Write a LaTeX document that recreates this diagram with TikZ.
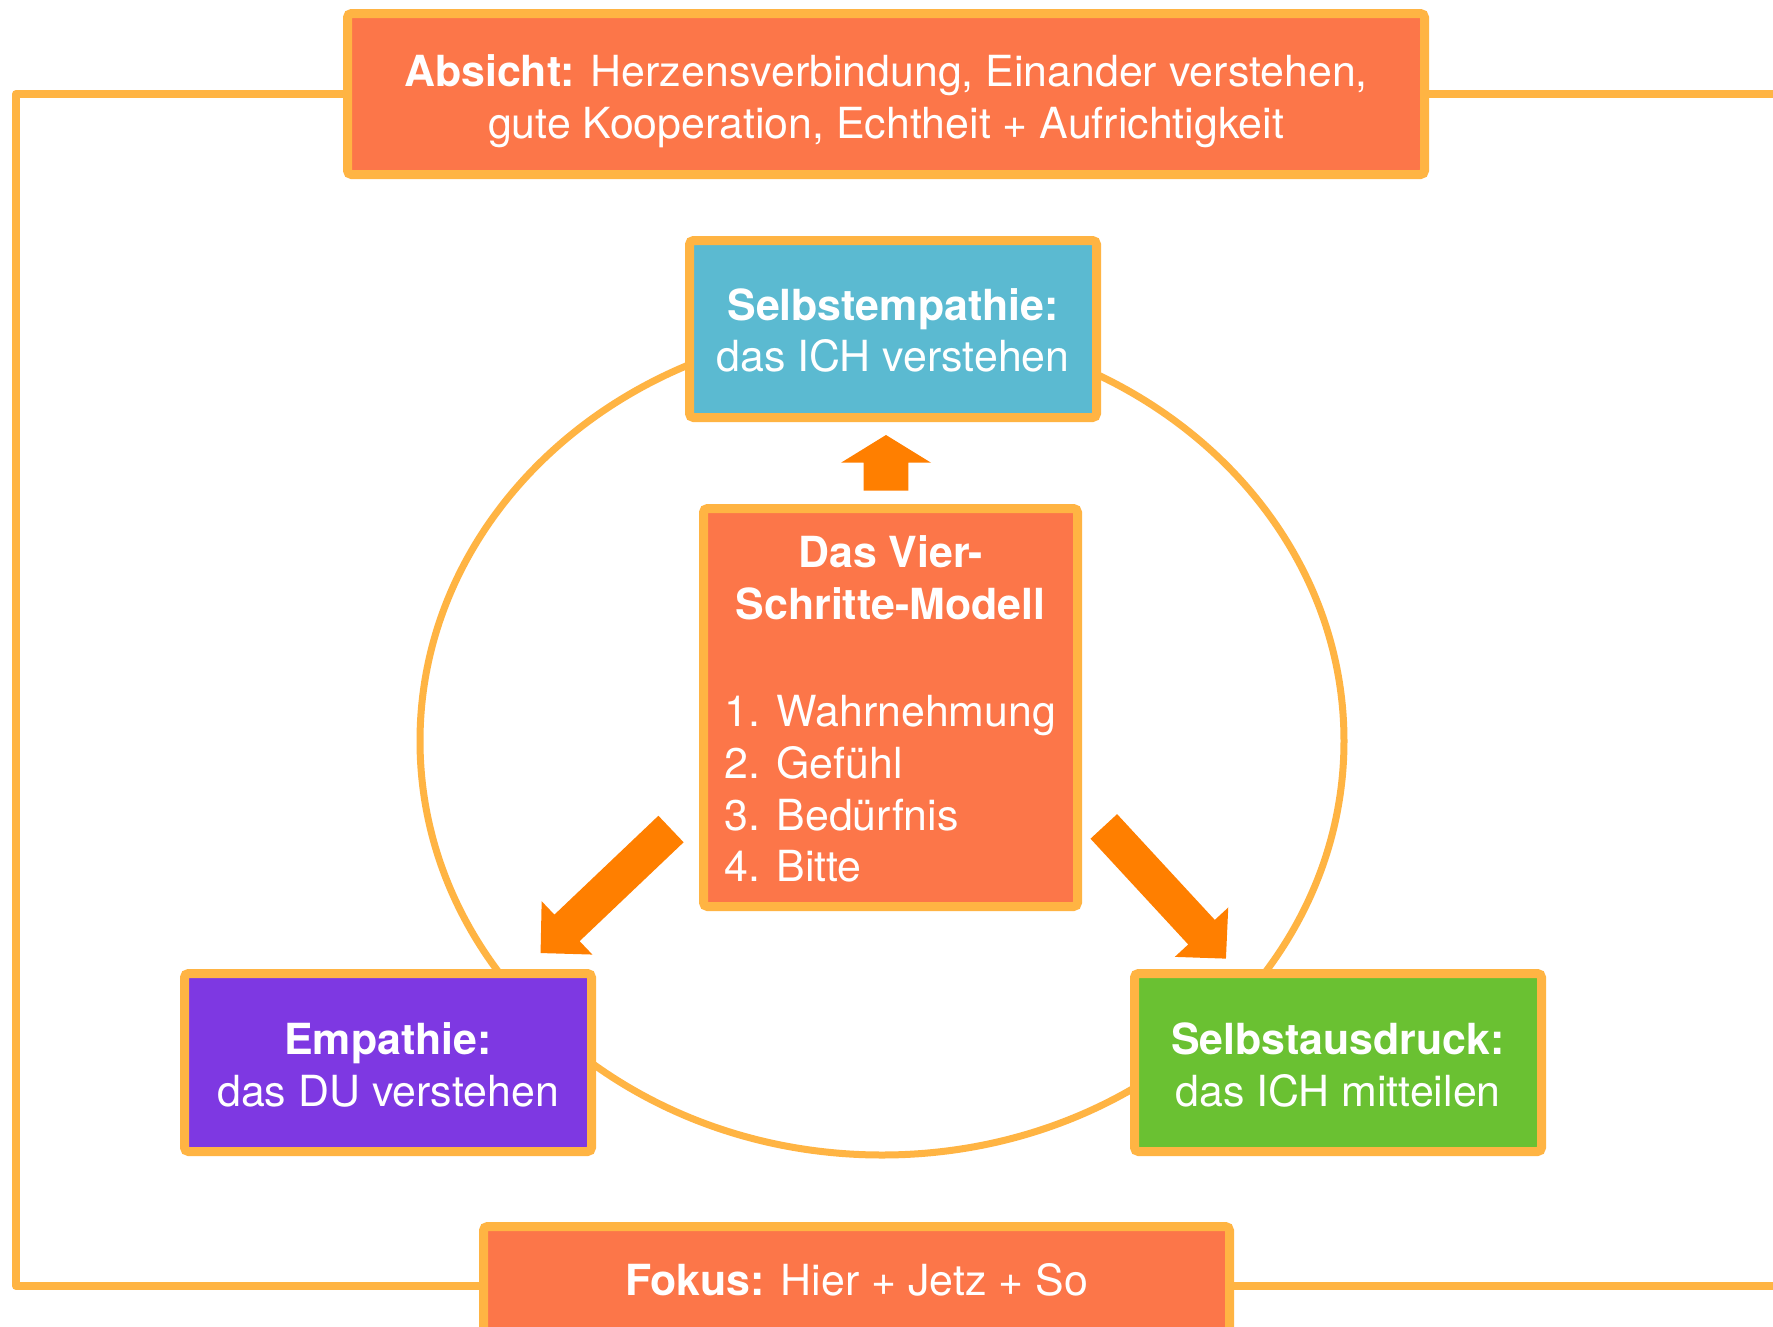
\documentclass[tikz,border=0pt]{standalone}
\usepackage{fontspec}
\setmainfont{TeX Gyre Heros}
\usetikzlibrary{calc}

\definecolor{rim}{HTML}{FFB443}
\definecolor{coral}{HTML}{FC7649}
\definecolor{sky}{HTML}{5BBAD1}
\definecolor{boxviolet}{HTML}{7E38E2}
\definecolor{leaf}{HTML}{6AC132}
\definecolor{arrowor}{HTML}{FF7F00}

% block arrow along local +x: length / shaft half width / head half width / head length
\tikzset{
  pics/barrow/.style args={#1/#2/#3/#4}{code={
    \fill[arrowor] (0,-#2) -- ({#1-#4},-#2) -- ({#1-#4},-#3) -- (#1,0)
      -- ({#1-#4},#3) -- ({#1-#4},#2) -- (0,#2) -- cycle;
  }}
}

% move box text vertically while keeping its reported size
\newcommand\nudge[2]{\raisebox{#1}[\height][\depth]{#2}}

\begin{document}
\begin{tikzpicture}[x=0.1mm,y=-0.1mm,
  box/.style={draw=rim, line width=0.9mm, rounded corners=0.4mm, text=white,
    align=center, inner sep=0pt, font=\fontsize{12.2}{14.7}\selectfont},
  ring/.style={draw=rim, line width=0.7mm},
  frame/.style={draw=rim, line width=0.8mm, line join=round}]

\useasboundingbox (0,0) rectangle (1773,1326);
\clip (0,0) rectangle (1773,1326);
\fill[white] (0,0) rectangle (1773,1326);

% the cycle behind the three step boxes
\draw[ring] (882,741) ellipse [x radius=462, y radius=414];

% boxes
\node[box, fill=coral, minimum width=107.7mm, minimum height=16.1mm] (absicht) at (886,94)
  {\nudge{-0.8mm}{\begin{tabular}{@{}c@{}}
    \textbf{Absicht:} Herzensverbindung, Einander verstehen,\\
    gute Kooperation, Echtheit + Aufrichtigkeit
  \end{tabular}}};

\node[box, fill=sky, minimum width=40.7mm, minimum height=17.7mm] (selbstemp) at (893,329)
  {\nudge{-0.65mm}{\begin{tabular}{@{}c@{}}
    \textbf{Selbstempathie:}\\das ICH verstehen
  \end{tabular}}};

\node[box, fill=coral, minimum width=37.4mm, minimum height=39.8mm] (modell) at (890.5,707.5)
  {\nudge{-0.68mm}{\begin{tabular}{@{}l@{}}
    \multicolumn{1}{@{}c@{}}{\textbf{Das Vier-}}\\
    \multicolumn{1}{@{}c@{}}{\textbf{Schritte-Modell}}\\[1.3pt]
    \\
    1. Wahrnehmung\\
    2. Gefühl\\
    3. Bedürfnis\\
    4. Bitte
  \end{tabular}}};

\node[box, fill=boxviolet, minimum width=40.7mm, minimum height=17.8mm] (empathie) at (388,1062.5)
  {\nudge{-0.75mm}{\begin{tabular}{@{}c@{}}
    \textbf{Empathie:}\\das DU verstehen
  \end{tabular}}};

\node[box, fill=leaf, minimum width=40.7mm, minimum height=17.8mm] (ausdruck) at (1338,1062.5)
  {\nudge{-0.75mm}{\begin{tabular}{@{}c@{}}
    \textbf{Selbstausdruck:}\\das ICH mitteilen
  \end{tabular}}};

\node[box, fill=coral, minimum width=74.6mm, minimum height=11.9mm] (fokus) at (856.5,1286)
  {\nudge{0.65mm}{\textbf{Fokus:} Hier + Jetz + So}};

% outer frame linking intention and focus
\coordinate (tl) at (16,94);
\coordinate (bl) at (16,1286);
\coordinate (tr) at (1800,94);
\coordinate (br) at (1800,1286);
\draw[frame] (absicht.west) -- (tl) -- (bl) -- (fokus.west);
\draw[frame] (absicht.east) -- (tr);
\draw[frame] (fokus.east) -- (br);

% block arrows from the model to the three steps
\coordinate (upstart) at (886,490.7);
\coordinate (leftstart) at (671,829);
\coordinate (rightstart) at (1103.8,826.4);
\pic[rotate=90] at (upstart) {barrow=55.7/22.35/45/27.7};
\pic[rotate=223.56] at (leftstart) {barrow=180/18.3/36.8/36.5};
\pic[rotate=-47.27] at (rightstart) {barrow=180/18.1/36.4/36};

\end{tikzpicture}
\end{document}
